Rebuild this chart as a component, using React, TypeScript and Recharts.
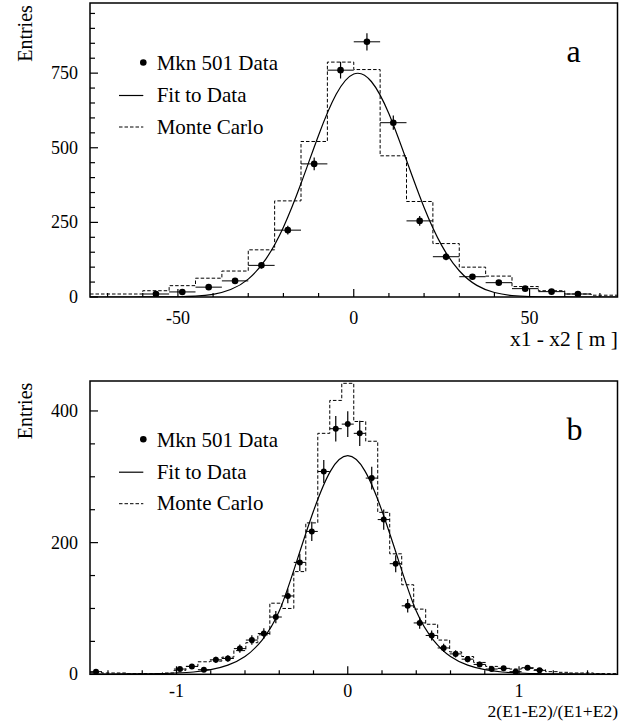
import React from "react";
import { ComposedChart, Line, Scatter, ErrorBar, XAxis, YAxis } from "recharts";

const FONT = '"Liberation Serif", "Times New Roman", "DejaVu Serif", serif';

// ---- panel a: x1 - x2 [ m ] ----
const aBinCenters = [
  -71.25, -63.75, -56.25, -48.75, -41.25, -33.75, -26.25, -18.75, -11.25, -3.75,
  3.75, 11.25, 18.75, 26.25, 33.75, 41.25, 48.75, 56.25, 63.75, 71.25,
];
const aBinHalf = 3.75;
const aMonteCarlo = [10, 10, 21, 38, 63, 87, 158, 322, 521, 787, 762, 473, 320, 179, 100, 70, 35, 21, 10, 6];
const aDataX = [-56.25, -48.75, -41.25, -33.75, -26.25, -18.75, -11.25, -3.75, 3.75, 11.25, 18.75, 26.25, 33.75, 41.25, 48.75, 56.25, 63.75];
const aDataY = [10, 17, 33, 54, 106, 224, 446, 760, 855, 584, 255, 135, 68, 48, 28, 18, 10];
const aDataErr = [3, 4, 6, 7, 10, 15, 21, 28, 29, 24, 16, 12, 8, 7, 5, 4, 3];
const aFitX = [-75, -70, -65, -60, -55, -50, -45, -40, -35, -30, -25, -20, -15, -10, -5, 0, 5, 10, 15, 20, 25, 30, 35, 40, 45, 50, 55, 60, 65, 70, 75];
const aFitY = [0, 0, 0, 0.1, 0.2, 0.9, 3, 9, 25, 60, 127, 234, 380, 542, 679, 747, 722, 614, 458, 300, 173, 88, 39, 15, 5, 1.6, 0.4, 0.1, 0, 0, 0];
const aXTicks = [-70, -60, -50, -40, -30, -20, -10, 0, 10, 20, 30, 40, 50, 60, 70];
const aYTicks = [0, 50, 100, 150, 200, 250, 300, 350, 400, 450, 500, 550, 600, 650, 700, 750, 800, 850, 900, 950];

// ---- panel b: 2(E1-E2)/(E1+E2) ----
const bBinCenters = [
  -1.47, -1.4, -1.33, -1.26, -1.19, -1.12, -1.05, -0.98, -0.91, -0.84, -0.77, -0.7, -0.63, -0.56, -0.49,
  -0.42, -0.35, -0.28, -0.21, -0.14, -0.07, 0, 0.07, 0.14, 0.21, 0.28, 0.35, 0.42, 0.49, 0.56, 0.63,
  0.7, 0.77, 0.84, 0.91, 0.98, 1.05, 1.12, 1.19, 1.26, 1.33, 1.4, 1.47, 1.54,
];
const bBinHalf = 0.035;
const bMonteCarlo = [
  3, 2, 2, 1, 1, 1, 2, 6, 12, 19, 20, 26, 36, 48, 60, 108, 100, 156, 230, 366, 416, 442,
  384, 354, 246, 183, 136, 99, 76, 52, 34, 27, 18, 12, 9, 8, 9, 7, 4, 3, 2, 2, 1, 1,
];
const bDataX = [
  -1.47, -0.98, -0.91, -0.84, -0.77, -0.7, -0.63, -0.56, -0.49, -0.42, -0.35, -0.28, -0.21, -0.14, -0.07, 0,
  0.07, 0.14, 0.21, 0.28, 0.35, 0.42, 0.49, 0.56, 0.63, 0.7, 0.77, 0.84, 0.91, 0.98, 1.05, 1.12,
];
const bDataY = [4, 8, 12, 7, 22, 24, 39, 52, 62, 87, 119, 170, 217, 308, 373, 380, 366, 298, 235, 168, 104, 78, 59, 40, 31, 23, 15, 8, 9, 4, 10, 6];
const bDataErr = [2, 3, 3.5, 2.6, 4.7, 4.9, 6.2, 7.2, 7.9, 9.3, 10.9, 13, 14.7, 17.5, 19.3, 19.5, 19.1, 17.3, 15.3, 13, 10.2, 8.8, 7.7, 6.3, 5.6, 4.8, 3.9, 2.8, 3, 2, 3.2, 2.4];
const bFitX = [-1.5, -1.4, -1.3, -1.2, -1.1, -1, -0.9, -0.8, -0.7, -0.6, -0.5, -0.4, -0.3, -0.2, -0.1, 0, 0.1, 0.2, 0.3, 0.4, 0.5, 0.6, 0.7, 0.8, 0.9, 1, 1.1, 1.2, 1.3, 1.4, 1.5];
const bFitY = [0.3, 0.4, 0.5, 0.7, 1, 2, 3.5, 7, 14, 27, 52, 96, 170, 248, 309, 332, 309, 248, 170, 96, 52, 27, 14, 7, 3.5, 2, 1, 0.7, 0.5, 0.4, 0.3];
const bXTicks = [-1.4, -1.2, -1, -0.8, -0.6, -0.4, -0.2, 0, 0.2, 0.4, 0.6, 0.8, 1, 1.2, 1.4];
const bYTicks = [0, 50, 100, 150, 200, 250, 300, 350, 400];

function histSteps(centers: number[], values: number[], half: number) {
  const pts = centers.map((c, i) => ({ x: c - half, y: values[i] }));
  pts.push({ x: centers[centers.length - 1] + half, y: values[values.length - 1] });
  return pts;
}

function points(xs: number[], ys: number[], errs?: number[], half?: number) {
  return xs.map((x, i) => ({ x, y: ys[i], ey: errs ? errs[i] : 0, ex: half || 0 }));
}

interface PanelProps {
  height: number;
  plot: { left: number; top: number; right: number; bottom: number };
  xDomain: [number, number];
  yDomain: [number, number];
  xTicks: number[];
  yTicks: number[];
  xMajor: (v: number) => boolean;
  yMajor: (v: number) => boolean;
  xLabelY: number;
  mc: { x: number; y: number }[];
  fit: { x: number; y: number }[];
  data: { x: number; y: number; ey: number; ex: number }[];
  dotR: number;
  letter: string;
  letterY: number;
  entriesY: number;
  legendY: number;
  title: string;
  titleY: number;
  titleSize: number;
}

function Panel(p: PanelProps) {
  const W = 626;
  const { left, top, right, bottom } = p.plot;

  const xTick = (props: any) => {
    const { x, payload } = props;
    const major = p.xMajor(payload.value);
    return (
      <g>
        <line x1={x} x2={x} y1={bottom} y2={bottom - (major ? 8 : 4)} stroke="#000" strokeWidth={1.2} />
        {major && (
          <text x={x} y={p.xLabelY} textAnchor="middle" fontSize={18} style={{ fontFamily: FONT }} fill="#000">
            {String(Math.round(payload.value))}
          </text>
        )}
      </g>
    );
  };

  const yTick = (props: any) => {
    const { y, payload } = props;
    const major = p.yMajor(payload.value);
    return (
      <g>
        <line x1={left} x2={left + (major ? 8 : 5)} y1={y} y2={y} stroke="#000" strokeWidth={1.2} />
        {major && (
          <text x={left - 12} y={y + 6} textAnchor="end" fontSize={18} style={{ fontFamily: FONT }} fill="#000">
            {String(payload.value)}
          </text>
        )}
      </g>
    );
  };

  const ly = p.legendY;

  return (
    <div style={{ position: "relative", width: W, height: p.height }}>
      <ComposedChart
        width={W}
        height={p.height}
        margin={{ top, right: W - right, bottom: 0, left: 0 }}
      >
        <XAxis
          type="number"
          dataKey="x"
          domain={p.xDomain}
          ticks={p.xTicks}
          interval={0}
          allowDataOverflow
          axisLine={false}
          tickLine={false}
          tick={xTick}
          height={p.height - bottom}
        />
        <YAxis
          type="number"
          dataKey="y"
          domain={p.yDomain}
          ticks={p.yTicks}
          interval={0}
          allowDataOverflow
          axisLine={false}
          tickLine={false}
          tick={yTick}
          width={left}
        />
        <Line
          data={p.mc}
          dataKey="y"
          type="stepAfter"
          stroke="#000"
          strokeWidth={1}
          strokeDasharray="3.5 2"
          dot={false}
          activeDot={false}
          isAnimationActive={false}
        />
        <Line
          data={p.fit}
          dataKey="y"
          type="natural"
          stroke="#000"
          strokeWidth={1.2}
          dot={false}
          activeDot={false}
          isAnimationActive={false}
        />
        <Scatter
          data={p.data}
          fill="#000"
          isAnimationActive={false}
          shape={(s: any) => <circle cx={s.cx} cy={s.cy} r={p.dotR} fill="#000" />}
        >
          <ErrorBar dataKey="ey" direction="y" width={0} stroke="#000" strokeWidth={1.2} />
          <ErrorBar dataKey="ex" direction="x" width={0} stroke="#000" strokeWidth={1} />
        </Scatter>
      </ComposedChart>
      <svg
        width={W}
        height={p.height}
        style={{ position: "absolute", left: 0, top: 0, pointerEvents: "none", fontFamily: FONT }}
      >
        <rect x={left} y={top} width={right - left} height={bottom - top} fill="none" stroke="#000" strokeWidth={1.5} />
        <text
          x={31.5}
          y={p.entriesY}
          transform={`rotate(-90 31.5 ${p.entriesY})`}
          textAnchor="middle"
          fontSize={20}
        >
          Entries
        </text>
        <circle cx={143.3} cy={ly - 7.5} r={3.3} fill="#000" />
        <text x={156.7} y={ly} fontSize={21}>Mkn 501 Data</text>
        <line x1={119} x2={143.3} y1={ly + 25.5} y2={ly + 25.5} stroke="#000" strokeWidth={1.2} />
        <text x={156.7} y={ly + 32} fontSize={21}>Fit to Data</text>
        <line x1={119} x2={143.3} y1={ly + 57} y2={ly + 57} stroke="#000" strokeWidth={1} strokeDasharray="3.5 2" />
        <text x={156.7} y={ly + 63.5} fontSize={21}>Monte Carlo</text>
        <text x={566.5} y={p.letterY} fontSize={32}>{p.letter}</text>
        <text x={618} y={p.titleY} textAnchor="end" fontSize={p.titleSize}>{p.title}</text>
      </svg>
    </div>
  );
}

export default function App() {
  return (
    <div style={{ position: "absolute", left: 0, top: 0, width: 626, height: 727, background: "#fff" }}>
      <Panel
        height={360}
        plot={{ left: 90, top: 3, right: 617.5, bottom: 297 }}
        xDomain={[-75, 75]}
        yDomain={[0, 985]}
        xTicks={aXTicks}
        yTicks={aYTicks}
        xMajor={(v) => v % 50 === 0}
        yMajor={(v) => v % 250 === 0}
        xLabelY={324}
        mc={histSteps(aBinCenters, aMonteCarlo, aBinHalf)}
        fit={aFitX.map((x, i) => ({ x, y: aFitY[i] }))}
        data={points(aDataX, aDataY, aDataErr, aBinHalf)}
        dotR={3.3}
        letter="a"
        letterY={62.3}
        entriesY={33.5}
        legendY={70}
        title="x1 - x2 [ m ]"
        titleY={346}
        titleSize={21.5}
      />
      <Panel
        height={367}
        plot={{ left: 90, top: 21, right: 617.5, bottom: 314.3 }}
        xDomain={[-1.505, 1.575]}
        yDomain={[0, 445.5]}
        xTicks={bXTicks}
        yTicks={bYTicks}
        xMajor={(v) => Math.abs(v - Math.round(v)) < 1e-9}
        yMajor={(v) => v % 200 === 0}
        xLabelY={337}
        mc={histSteps(bBinCenters, bMonteCarlo, bBinHalf)}
        fit={bFitX.map((x, i) => ({ x, y: bFitY[i] }))}
        data={points(bDataX, bDataY, bDataErr, bBinHalf)}
        dotR={3}
        letter="b"
        letterY={80}
        entriesY={51}
        legendY={86.7}
        title="2(E1-E2)/(E1+E2)"
        titleY={357}
        titleSize={17.5}
      />
    </div>
  );
}
